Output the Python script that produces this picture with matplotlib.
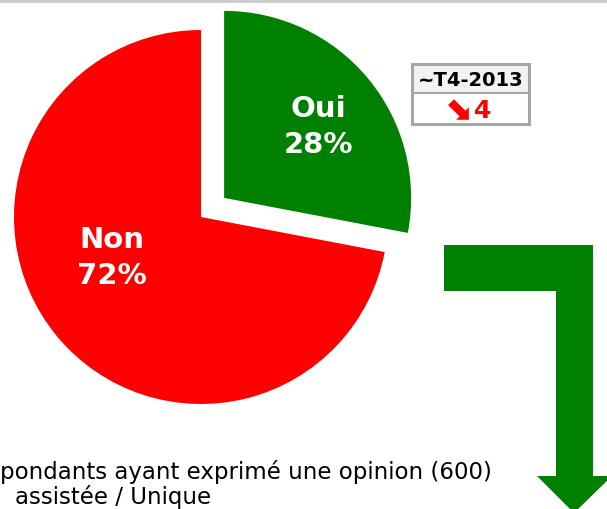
import matplotlib
matplotlib.use('Agg')
from matplotlib import pyplot as plt
from matplotlib import patches

# data
categories = ['Oui', 'Non']
values = [28, 72]
colors = ['#008000', '#FF0000']
period = '~T4-2013'
evolution = -4
notes = ['pondants ayant exprimé une opinion (600)', 'assistée / Unique']

W, H = 607, 510

fig = plt.figure(figsize=(W / 100, H / 100), dpi=100)
ax = fig.add_axes([0, 0, 1, 1])

# pie, in pixel units (y measured from the bottom)
radius = 187
center = (201, H - 218)
wedges, _ = ax.pie(values, colors=colors, startangle=90, counterclock=False,
                   radius=radius, center=center, explode=[30, 0],
                   wedgeprops=dict(linewidth=0))
ax.set_xlim(0, W)
ax.set_ylim(0, H)
ax.set_aspect('auto')
ax.axis('off')

# labels inside slices
label_pos = [(318, H - 127), (112, H - 258)]
for cat, val, (lx, ly) in zip(categories, values, label_pos):
    ax.text(lx, ly, f"{cat}\n{val}%", color='white', fontsize=21, fontweight='bold',
            ha='center', va='center', linespacing=1.35)

# top grey rule
ax.add_patch(patches.Rectangle((0, H - 4), W, 4, facecolor='#CCCCCC', edgecolor='none'))

# small evolution box
bx0, bx1, by_top, by_mid, by_bot = 412, 529, 65, 94, 125
ax.add_patch(patches.Rectangle((bx0, H - by_mid), bx1 - bx0, by_mid - by_top,
                               facecolor='#F2F2F2', edgecolor='none'))
ax.add_patch(patches.Rectangle((bx0, H - by_bot), bx1 - bx0, by_bot - by_top,
                               facecolor='none', edgecolor='#A6A6A6', linewidth=2.2))
ax.plot([bx0, bx1], [H - by_mid, H - by_mid], color='#A6A6A6', linewidth=1.5)
ax.text((bx0 + bx1) / 2, H - (by_top + by_mid) / 2 - 1, period, fontsize=14, fontweight='bold',
        ha='center', va='center', color='black')
arrow_char = '\u2B0A' if evolution < 0 else '\u2B08'
ymid = H - (by_mid + by_bot) / 2
ax.text(472, ymid, arrow_char, fontsize=24, fontweight='bold', ha='right', va='center',
        color='#FF0000')
ax.text(474, ymid - 1, str(abs(evolution)), fontsize=18, fontweight='bold', ha='left',
        va='center', color='#FF0000')

# big green bent arrow on the right
arrow = [(444, 246), (593, 246), (593, 477), (612, 477), (574, 514),
         (537, 477), (556, 477), (556, 292), (444, 292)]
ax.add_patch(patches.Polygon([(x, H - y) for x, y in arrow], closed=True,
                             facecolor='#008000', edgecolor='none'))

# footnote
ax.text(0, H - 472, notes[0], fontsize=16.5, ha='left', va='center', color='black')
ax.text(15, H - 497, notes[1], fontsize=16.5, ha='left', va='center', color='black')

plt.savefig('out.png', dpi=100)
